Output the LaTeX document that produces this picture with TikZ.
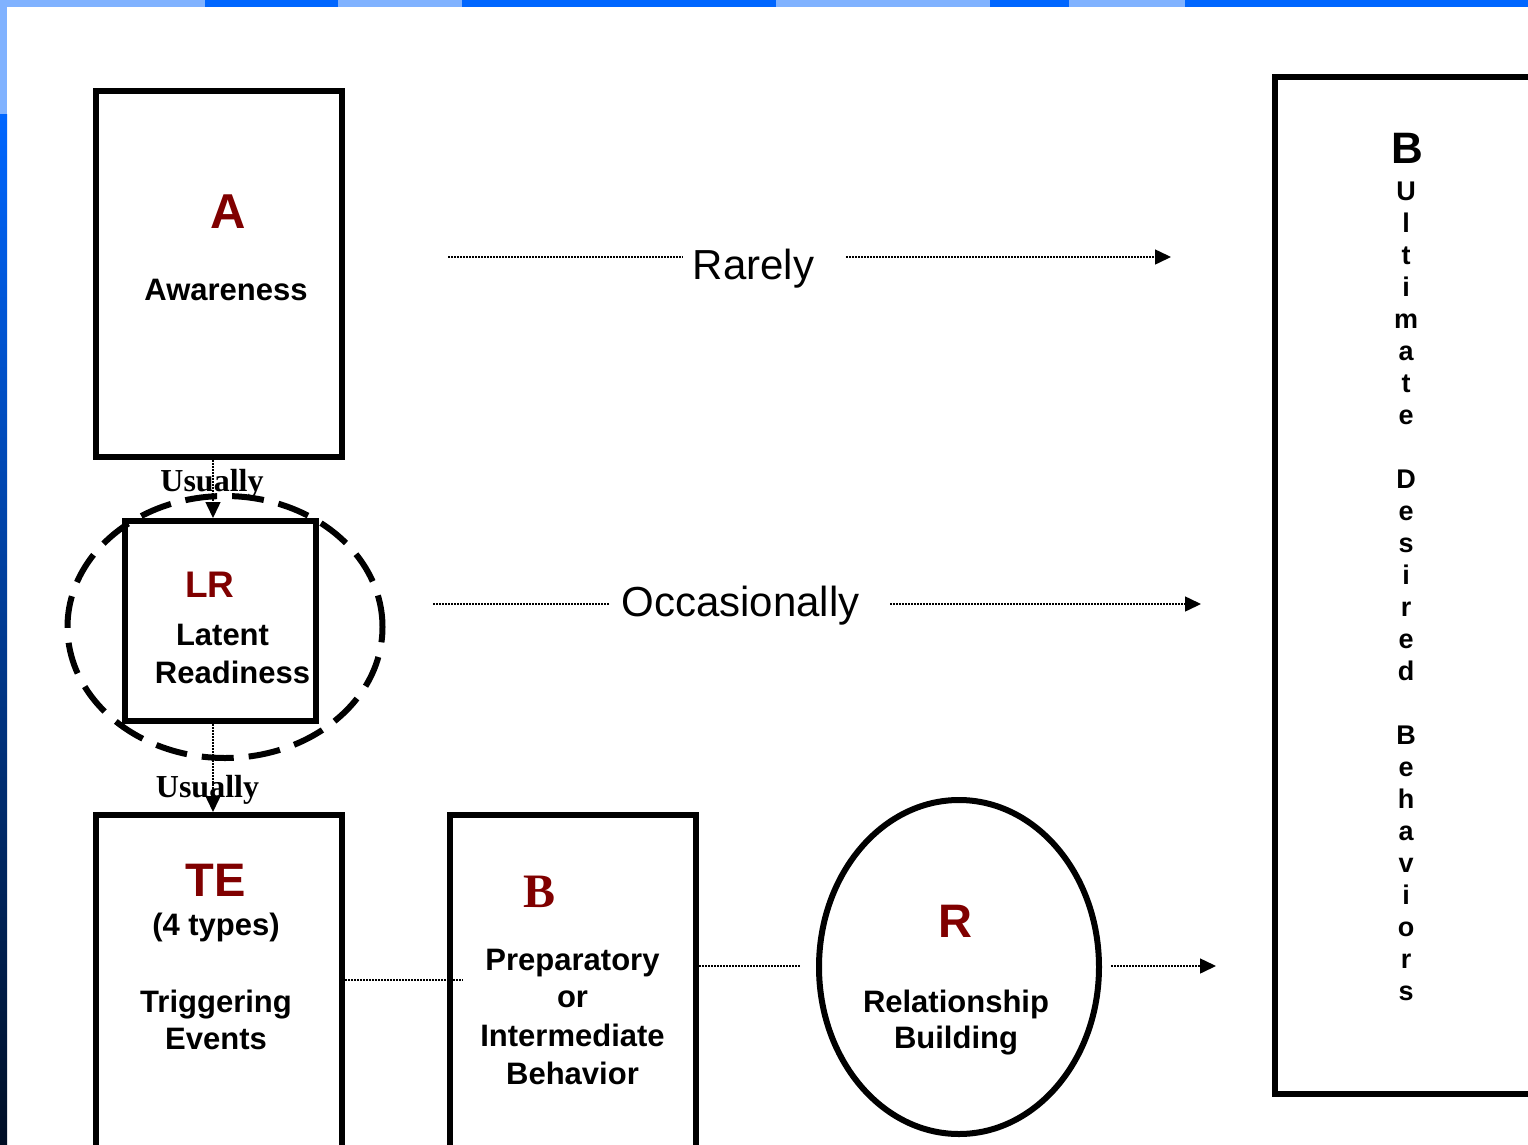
\documentclass[tikz,border=0pt]{standalone}
\usepackage{fontspec}
\setmainfont{Liberation Sans}
\newfontfamily\timesf{Liberation Serif}
\usetikzlibrary{arrows.meta,shapes.geometric}
\definecolor{lred}{RGB}{128,0,0}
\definecolor{barblue}{RGB}{0,102,255}
\definecolor{checkblue}{RGB}{128,178,255}
\definecolor{barnavy}{RGB}{0,14,36}
\begin{document}
\begin{tikzpicture}[x=1pt,y=-1pt,
  box/.style={draw, line width=6pt, minimum width=246pt, inner sep=0pt},
  con/.style={line width=1.5pt, dash pattern=on 1.5pt off 1.5pt},
  tip/.style={-{Triangle[length=16pt,width=15pt]}},
  hd/.style={text=lred, font=\bfseries\fontsize{47}{47}\selectfont, anchor=base, inner sep=0pt},
  lbl/.style={font=\bfseries\fontsize{31}{31}\selectfont, anchor=base, inner sep=0pt},
  usu/.style={font=\timesf\bfseries\fontsize{32}{32}\selectfont, anchor=base, inner sep=0pt},
  big/.style={font=\fontsize{42}{42}\selectfont, anchor=base, inner sep=0pt},
  vlet/.style={font=\bfseries\fontsize{27}{27}\selectfont, anchor=base, inner sep=0pt}
]
\useasboundingbox (0,0) rectangle (1528,1145);
\fill[white] (0,0) rectangle (1528,1145);
% frame bars
\fill[checkblue] (0,0) rectangle (1528,7);
\fill[barblue] (205,0) rectangle (338,7);
\fill[barblue] (462,0) rectangle (776,7);
\fill[barblue] (990,0) rectangle (1069,7);
\fill[barblue] (1185,0) rectangle (1528,7);
\fill[checkblue] (0,0) rectangle (7,115);
\shade[top color=barblue, bottom color=barnavy] (0,115) rectangle (7,1145);

% boxes
\node[box, minimum height=366pt] (A) at (219,274) {};
\node[draw, line width=6pt, minimum width=191pt, minimum height=200pt, inner sep=0pt] (LR) at (220.5,621) {};
\node[ellipse, draw, line width=6pt, dash pattern=on 32pt off 15pt, minimum width=315pt, minimum height=262pt, inner sep=0pt] (ring) at (225,627) {};
\node[box, minimum height=345pt] (TE) at (219,987.5) {};
\node[box, minimum height=345pt] (PB) at (573,987.5) {};
\node[ellipse, draw, line width=6pt, minimum width=280pt, minimum height=334pt, inner sep=0pt] (R) at (959,967) {};
\node[draw, line width=6pt, minimum width=300pt, minimum height=1017pt, inner sep=0pt] (UB) at (1425,585.5) {};

% texts
\node[hd, font=\bfseries\fontsize{49}{49}\selectfont] (Al) at (228,228) {A};
\node[lbl] (At) at (226,300) {Awareness};
\node[hd, font=\bfseries\fontsize{37}{37}\selectfont] (LRl) at (210,597) {LR};
\node[lbl] (LRa) at (222.5,645) {Latent};
\node[lbl] (LRb) at (232.5,683) {Readiness};
\node[hd] (TEl) at (215.5,896) {TE};
\node[lbl] (TEa) at (216,935) {(4 types)};
\node[lbl] (TEb) at (216,1012) {Triggering};
\node[lbl] (TEc) at (216,1049) {Events};
\node[hd, font=\timesf\bfseries\fontsize{48}{48}\selectfont] (Bl) at (540,907) {B};
\node[lbl] (Ba) at (572.5,970) {Preparatory};
\node[lbl] (Bb) at (572.5,1007) {or};
\node[lbl] (Bc) at (572.5,1046) {Intermediate};
\node[lbl] (Bd) at (572.5,1084) {Behavior};
\node[hd] (Rl) at (955.5,937) {R};
\node[lbl] (Ra) at (956,1012) {Relationship};
\node[lbl] (Rb) at (956,1048) {Building};
\node[usu] (u1) at (212,491) {Usually};
\node[usu] (u2) at (207.5,797) {Usually};
\node[big] (rar) at (753.5,279) {Rarely};
\node[big] (occ) at (740.5,616) {Occasionally};
\node[font=\bfseries\fontsize{44}{44}\selectfont, anchor=base, inner sep=0pt] (UBl) at (1407,164) {B};
\foreach \ch [count=\i] in {U,l,t,i,m,a,t,e,{},D,e,s,i,r,e,d,{},B,e,h,a,v,i,o,r,s}
  \node[vlet] (ul\i) at (1406,{200+32*(\i-1)}) {\ch};

% connectors
\coordinate (r1) at (448,257);
\coordinate (r2) at (683,257);
\coordinate (r3) at (846,257);
\coordinate (r4) at (1171,257);
\draw[con] (r1) -- (r2);
\draw[con,tip] (r3) -- (r4);
\coordinate (o1) at (433,604);
\coordinate (o2) at (610,604);
\coordinate (o3) at (890,604);
\coordinate (o4) at (1201,604);
\draw[con] (o1) -- (o2);
\draw[con,tip] (o3) -- (o4);
\coordinate (vx) at (213,0);
\draw[con,tip] (A.south -| vx) -- (LR.north -| vx);
\draw[con,tip] (LR.south -| vx) -- (TE.north -| vx);
\coordinate (tb) at (463,980);
\draw[con] (TE.east |- tb) -- (tb);
\coordinate (br) at (800,966);
\draw[con] (PB.east |- br) -- (br);
\coordinate (ru1) at (1111,966);
\coordinate (ru2) at (1216,966);
\draw[con,tip] (ru1) -- (ru2);
\end{tikzpicture}
\end{document}
